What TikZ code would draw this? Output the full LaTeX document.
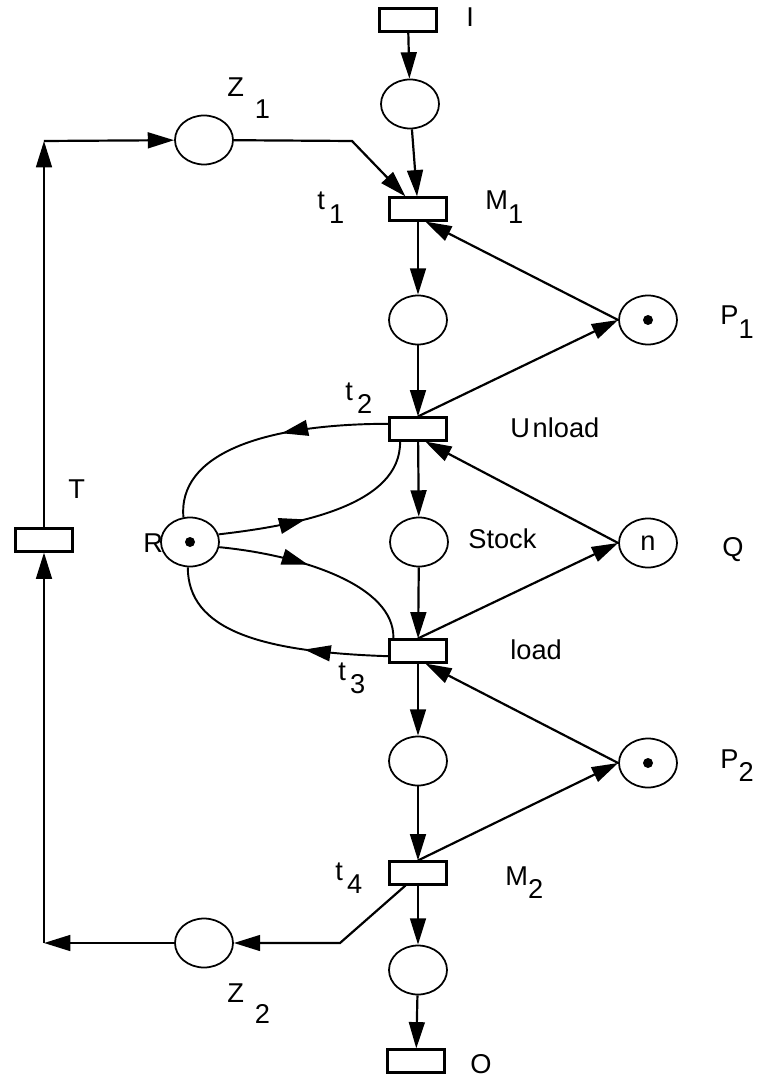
\documentclass[tikz,border=0pt]{standalone}
\usepackage{fontspec}
\setmainfont{Liberation Sans}
\usetikzlibrary{shapes.geometric,arrows.meta,decorations.markings}

\newcommand{\low}[2][0.5em]{\raisebox{-#1}{#2}}

\begin{document}
\begin{tikzpicture}[x=0.02cm,y=-0.02cm,font=\fontsize{15.5}{18}\selectfont,
  place/.style={ellipse,draw,line width=1pt,minimum width=1.16cm,minimum height=0.98cm,inner sep=0pt},
  trans/.style={rectangle,draw,line width=1.2pt,minimum width=1.14cm,minimum height=0.46cm,inner sep=0pt},
  arc/.style={line width=1.25pt,-{Triangle[length=15pt,width=9pt]}},
  midarc/.style={line width=1.1pt,postaction={decorate},
    decoration={markings,mark=at position #1 with {\arrow{Triangle[length=15pt,width=9pt]}}}},
  txt/.style={anchor=base west,inner sep=0pt}]
\useasboundingbox (0,0) rectangle (769,1077);
% transitions
\foreach \nm/\x/\y in {I/408/20,t1/418/209,t2/418/429,t3/418/651,t4/418/873,O/416/1061,T/44/540}
  {\node[trans] (\nm) at (\x,\y) {};}
% places
\foreach \nm/\x/\y in {p0/410/104,p1/418/320,stock/419/542,p3/418/761,p4/418/970,
    Z1/204/140,Z2/204/943,R/190/542,P1/648/320,P2/648/763}
  {\node[place] (\nm) at (\x,\y) {};}
\node[place] (Q) at (648,543) {n};
\foreach \nm in {R,P1,P2}
  {\fill (\nm) circle (0.1cm);}
% main line
\foreach \a/\b in {I/p0,p0/t1,t1/p1,p1/t2,t2/stock,stock/t3,t3/p3,p3/t4,t4/p4,p4/O}
  {\draw[arc] (\a) -- (\b);}
% machines and buffer
\draw[arc] (P1.west) -- (t1.-60);
\draw[arc] (t2.north) -- (P1.west);
\draw[arc] (Q.west) -- (t2.-60);
\draw[arc] (t3.north) -- (Q.west);
\draw[arc] (P2.west) -- (t3.-60);
\draw[arc] (t4.north) -- (P2.west);
% resource R
\draw[midarc=0.43] (t2.170) .. controls (260,424) and (178,455) .. (R.105);
\draw[midarc=0.4] (R.15) .. controls (300,525) and (401,505) .. (t2.-145);
\draw[midarc=0.43] (R.-10) .. controls (300,555) and (395,585) .. (t3.153);
\draw[midarc=0.35] (t3.-170) .. controls (260,652) and (188,630) .. (R.-95);
% transport loop
\coordinate (c1) at (44,141);
\coordinate (c2) at (352,141);
\coordinate (c3) at (340,943);
\coordinate (c4) at (44,943);
\draw[arc] (T) -- (c1);
\draw[arc] (c1) -- (Z1);
\draw[arc] (Z1) -- (c2) -- (t1.135);
\draw[arc] (t4.225) -- (c3) -- (Z2);
\draw[arc] (Z2) -- (c4);
\draw[arc] (c4) -- (T);
% labels
\node[txt] at (466,27) {I};
\node[txt] at (227,97) {Z\hspace{0.4em}\low[0.8em]{1}};
\node[txt] at (317,210) {t\hspace{0.15em}\low{1}};
\node[txt] at (485,210) {M\low{1}};
\node[txt] at (720,325) {P\low{1}};
\node[txt] at (345,400) {t\hspace{0.15em}\low{2}};
\node[txt] at (510,437) {U\hspace{0.1em}nload};
\node[txt] at (68,498) {T};
\node[txt] at (143,552) {R};
\node[txt] at (468,548) {Stock};
\node[txt] at (722,556) {Q};
\node[txt] at (510,659) {load};
\node[txt] at (338,680) {t\hspace{0.15em}\low{3}};
\node[txt] at (720,768) {P\low{2}};
\node[txt] at (335,880) {t\hspace{0.15em}\low{4}};
\node[txt] at (505,885) {M\low{2}};
\node[txt] at (227,1002) {Z\hspace{0.4em}\low[0.8em]{2}};
\node[txt] at (470,1073) {O};
\end{tikzpicture}
\end{document}
